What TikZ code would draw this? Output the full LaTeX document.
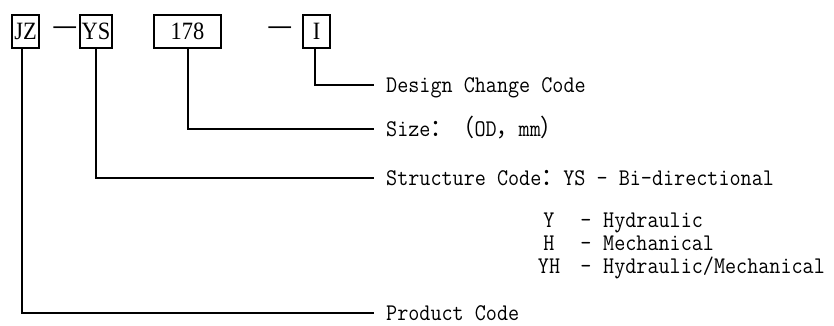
\documentclass[tikz,border=0pt]{standalone}
\usepackage{fontspec}
\setmainfont{Liberation Serif}
\newfontfamily\boxfont[FakeStretch=0.9]{Liberation Serif}
\newfontfamily\lblfont[FakeStretch=0.9]{Latin Modern Mono}
\newfontfamily\cjk[FakeStretch=0.92]{Noto Sans CJK SC}
\begin{document}
\begin{tikzpicture}[x=1bp,y=-1bp,
  codebox/.style={draw, line width=1.5bp, inner sep=0pt, minimum height=33bp,
    font=\boxfont\fontsize{25}{25}\selectfont},
  dashtxt/.style={inner sep=0pt, font=\boxfont\fontsize{25}{25}\selectfont},
  conn/.style={line width=1.3bp},
  lbl/.style={anchor=base west, inner sep=0pt, font=\lblfont\fontsize{24}{24}\selectfont},
  lblc/.style={anchor=base, inner sep=0pt, font=\lblfont\fontsize{24}{24}\selectfont}]
\useasboundingbox (0,0) rectangle (834,325);

% code boxes
\node[codebox, minimum width=27bp] (jz) at (25.5,31.5) {JZ};
\node[codebox, minimum width=32bp] (ys) at (96,31.5) {YS};
\node[codebox, minimum width=67bp] (sz) at (187.5,31.5) {178};
\node[codebox, minimum width=27bp] (dc) at (316.5,31.5) {I};
\node[dashtxt] (d1) at (65,30.5) {\textbf{—}};
\node[dashtxt] (d2) at (280,30.5) {\textbf{—}};

% connector ends
\coordinate (e1) at (374,85);
\coordinate (e2) at (374,129);
\coordinate (e3) at (374,178);
\coordinate (e4) at (374,313);

\draw[conn] ([xshift=-1.5bp]dc.south) |- (e1);
\draw[conn] ([xshift=0.5bp]sz.south) |- (e2);
\draw[conn] (ys.south) |- (e3);
\draw[conn] ([xshift=-3.5bp]jz.south) |- (e4);

% labels
\node[lbl] (l1) at (386,92.5) {Design Change Code};
\node[lbl] (l2) at (386,136.5) {Size{\cjk：（}OD{\cjk，}mm{\cjk）}};
\node[lbl] (l3) at (386,185.5) {Structure Code{\cjk：}YS {\bfseries -} Bi-directional};

\node[lblc] (y1) at (549,227) {Y};
\node[lblc] (y2) at (586,227) {\bfseries -};
\node[lbl] (y3) at (603,227) {Hydraulic};
\node[lblc] (h1) at (549,250) {H};
\node[lblc] (h2) at (586,250) {\bfseries -};
\node[lbl] (h3) at (603,250) {Mechanical};
\node[lblc] (yh1) at (549,273) {YH};
\node[lblc] (yh2) at (586,273) {\bfseries -};
\node[lbl] (yh3) at (603,273) {Hydraulic/Mechanical};

\node[lbl] (l4) at (386,320) {Product Code};
\end{tikzpicture}
\end{document}
